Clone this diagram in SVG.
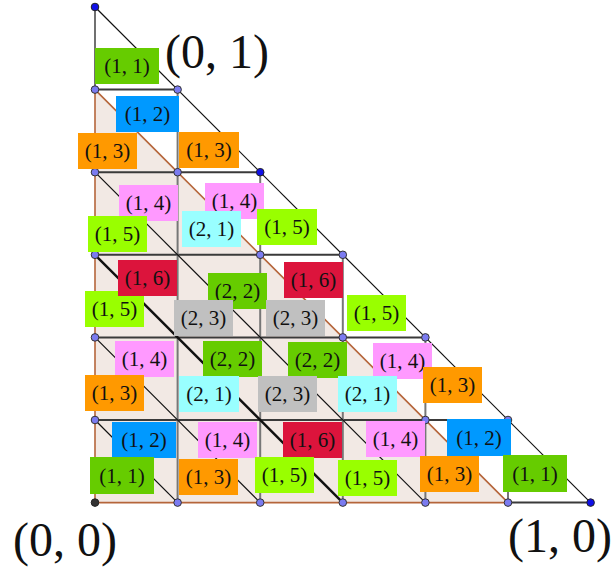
<svg xmlns="http://www.w3.org/2000/svg" width="613" height="572" viewBox="0 0 613 572">
<style>
.g{fill:#66cc00}.b{fill:#0099ff}.o{fill:#ff9900}.p{fill:#ff99ff}.l{fill:#99ff00}.r{fill:#dc143c}.c{fill:#99ffff}.s{fill:#c0c0c0}
text{font-family:"Liberation Serif","Times New Roman",serif;fill:#111}
.lab{font-size:21px;text-anchor:middle}
.big{font-size:48px;text-anchor:middle}
.h{stroke:#3a3a3a;stroke-width:2;fill:none}
.v{stroke:#777;stroke-width:2;fill:none}
.d{stroke:#111;stroke-width:1.2;fill:none}
.dk{stroke:#111;stroke-width:2.4;fill:none}
.br{stroke:#b5653a;stroke-width:1.6;fill:none}
.pt{fill:#7b7bf0;stroke:#333;stroke-width:1}
.ptd{fill:#1010e8;stroke:#222;stroke-width:1}
</style>
<g id="shade"><polygon points="95,89.6 95,502.6 508,502.6" fill="#f2e9e4"/></g>
<g id="connectors">
<line class="h" x1="95" y1="89.6" x2="177.6" y2="89.6"/>
<line class="h" x1="95" y1="172.2" x2="260.2" y2="172.2"/>
<line class="h" x1="95" y1="254.8" x2="342.8" y2="254.8"/>
<line class="h" x1="95" y1="337.4" x2="425.4" y2="337.4"/>
<line class="h" x1="95" y1="420" x2="508" y2="420"/>
<line class="h" x1="508" y1="502.6" x2="590.6" y2="502.6"/>
<line class="v" x1="177.6" y1="89.6" x2="177.6" y2="502.6"/>
<line class="v" x1="260.2" y1="172.2" x2="260.2" y2="502.6"/>
<line class="v" x1="342.8" y1="254.8" x2="342.8" y2="502.6"/>
<line class="v" x1="425.4" y1="337.4" x2="425.4" y2="502.6"/>
<line class="v" x1="508" y1="420" x2="508" y2="502.6"/>
<line class="d" x1="95" y1="7" x2="95" y2="89.6"/>
<line class="d" x1="95" y1="7" x2="590.6" y2="502.6"/>
<line class="d" x1="95" y1="172.2" x2="425.4" y2="502.6"/>
<line class="dk" x1="95" y1="254.8" x2="342.8" y2="502.6"/>
<line class="d" x1="95" y1="337.4" x2="260.2" y2="502.6"/>
<line class="d" x1="95" y1="420" x2="177.6" y2="502.6"/>
<line class="br" x1="95" y1="89.6" x2="508" y2="502.6"/>
<line class="br" x1="95" y1="89.6" x2="95" y2="502.6"/>
<line class="br" x1="95" y1="502.6" x2="508" y2="502.6"/>
</g>
<g id="points">
<circle class="ptd" cx="95" cy="7" r="3.8"/>
<circle class="pt" cx="95" cy="89.6" r="3.8"/><circle class="pt" cx="177.6" cy="89.6" r="3.8"/>
<circle class="pt" cx="95" cy="172.2" r="3.8"/><circle class="pt" cx="177.6" cy="172.2" r="3.8"/><circle class="ptd" cx="260.2" cy="172.2" r="3.8"/>
<circle class="pt" cx="95" cy="254.8" r="3.8"/><circle class="pt" cx="260.2" cy="254.8" r="3.8"/><circle class="pt" cx="342.8" cy="254.8" r="3.8"/>
<circle class="pt" cx="95" cy="337.4" r="3.8"/><circle class="pt" cx="342.8" cy="337.4" r="3.8"/><circle class="pt" cx="425.4" cy="337.4" r="3.8"/>
<circle class="pt" cx="95" cy="420" r="3.8"/><circle class="pt" cx="425.4" cy="420" r="3.8"/><circle class="pt" cx="508" cy="420" r="3.8"/>
<circle cx="95" cy="502.6" r="3.8" fill="#333" stroke="#222"/>
<circle class="pt" cx="177.6" cy="502.6" r="3.8"/><circle class="pt" cx="260.2" cy="502.6" r="3.8"/><circle class="pt" cx="342.8" cy="502.6" r="3.8"/><circle class="pt" cx="425.4" cy="502.6" r="3.8"/><circle class="pt" cx="508" cy="502.6" r="3.8"/>
<circle class="ptd" cx="590.6" cy="502.6" r="3.8"/>
</g>
<g id="labels">
<g id="n1"><rect class="g" x="95" y="48" width="64" height="36"/><text class="lab" x="127" y="73">(1, 1)</text></g>
<g id="n2"><rect class="b" x="116" y="96" width="63" height="36"/><text class="lab" x="147.5" y="121">(1, 2)</text></g>
<g id="n3"><rect class="o" x="78" y="133" width="59" height="36"/><text class="lab" x="107.5" y="158">(1, 3)</text></g>
<g id="n4"><rect class="o" x="179" y="132" width="60" height="36"/><text class="lab" x="209" y="157">(1, 3)</text></g>
<g id="n5"><rect class="p" x="119" y="185" width="59" height="36"/><text class="lab" x="148.5" y="210">(1, 4)</text></g>
<g id="n6"><rect class="p" x="205" y="183" width="59" height="36"/><text class="lab" x="234.5" y="208">(1, 4)</text></g>
<g id="n7"><rect class="l" x="88" y="216" width="59" height="36"/><text class="lab" x="117.5" y="241">(1, 5)</text></g>
<g id="n8"><rect class="c" x="182" y="211" width="59" height="36"/><text class="lab" x="211.5" y="236">(2, 1)</text></g>
<g id="n9"><rect class="l" x="257" y="209" width="60" height="36"/><text class="lab" x="287" y="234">(1, 5)</text></g>
<g id="n12"><rect class="l" x="85" y="291" width="59" height="36"/><text class="lab" x="114.5" y="316">(1, 5)</text></g>
<g id="n10"><rect class="r" x="118" y="260" width="59" height="36"/><text class="lab" x="147.5" y="285">(1, 6)</text></g>
<g id="n11"><rect class="g" x="208" y="273" width="59" height="36"/><text class="lab" x="237.5" y="298">(2, 2)</text></g>
<g id="n13"><rect class="s" x="174" y="300" width="59" height="36"/><text class="lab" x="203.5" y="325">(2, 3)</text></g>
<g id="n14"><rect class="r" x="284" y="262" width="59" height="36"/><text class="lab" x="313.5" y="287">(1, 6)</text></g>
<g id="n15"><rect class="s" x="266" y="300" width="59" height="36"/><text class="lab" x="295.5" y="325">(2, 3)</text></g>
<g id="n16"><rect class="l" x="347" y="295" width="59" height="36"/><text class="lab" x="376.5" y="320">(1, 5)</text></g>
<g id="n17"><rect class="p" x="115" y="341" width="59" height="36"/><text class="lab" x="144.5" y="366">(1, 4)</text></g>
<g id="n18"><rect class="g" x="203" y="341" width="59" height="36"/><text class="lab" x="232.5" y="366">(2, 2)</text></g>
<g id="n19"><rect class="o" x="85" y="375" width="59" height="36"/><text class="lab" x="114.5" y="400">(1, 3)</text></g>
<g id="n20"><rect class="c" x="179" y="376" width="60" height="36"/><text class="lab" x="209" y="401">(2, 1)</text></g>
<g id="n21"><rect class="g" x="288" y="342" width="59" height="36"/><text class="lab" x="317.5" y="367">(2, 2)</text></g>
<g id="n22"><rect class="p" x="373" y="343" width="59" height="36"/><text class="lab" x="402.5" y="368">(1, 4)</text></g>
<g id="n23"><rect class="s" x="258" y="376" width="59" height="36"/><text class="lab" x="287.5" y="401">(2, 3)</text></g>
<g id="n24"><rect class="c" x="338" y="376" width="59" height="36"/><text class="lab" x="367.5" y="401">(2, 1)</text></g>
<g id="n25"><rect class="o" x="423" y="367" width="59" height="36"/><text class="lab" x="452.5" y="392">(1, 3)</text></g>
<g id="n26"><rect class="b" x="112" y="422" width="64" height="36"/><text class="lab" x="144" y="447">(1, 2)</text></g>
<g id="n27"><rect class="p" x="198" y="422" width="59" height="36"/><text class="lab" x="227.5" y="447">(1, 4)</text></g>
<g id="n28"><rect class="r" x="283" y="422" width="59" height="36"/><text class="lab" x="312.5" y="447">(1, 6)</text></g>
<g id="n29"><rect class="p" x="366" y="421" width="59" height="36"/><text class="lab" x="395.5" y="446">(1, 4)</text></g>
<g id="n30"><rect class="b" x="447" y="419" width="64" height="37"/><text class="lab" x="479" y="445">(1, 2)</text></g>
<g id="n31"><rect class="g" x="90" y="457" width="64" height="37"/><text class="lab" x="122" y="483">(1, 1)</text></g>
<g id="n32"><rect class="o" x="179" y="459" width="59" height="36"/><text class="lab" x="208.5" y="484">(1, 3)</text></g>
<g id="n33"><rect class="l" x="255" y="457" width="59" height="36"/><text class="lab" x="284.5" y="482">(1, 5)</text></g>
<g id="n34"><rect class="l" x="338" y="460" width="59" height="36"/><text class="lab" x="367.5" y="485">(1, 5)</text></g>
<g id="n35"><rect class="o" x="420" y="456" width="59" height="36"/><text class="lab" x="449.5" y="481">(1, 3)</text></g>
<g id="n36"><rect class="g" x="503" y="455" width="64" height="37"/><text class="lab" x="535" y="481">(1, 1)</text></g>
</g>
<g id="corners">
<text class="big" x="217" y="68">(0, 1)</text>
<text class="big" x="65" y="556">(0, 0)</text>
<text class="big" x="560" y="552">(1, 0)</text>
</g>
</svg>
